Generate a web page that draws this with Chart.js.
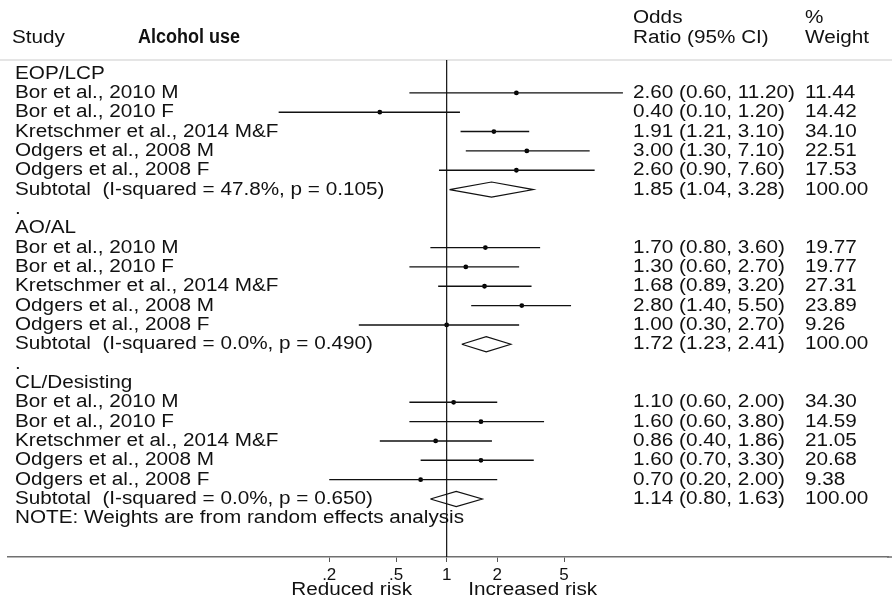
<!DOCTYPE html>
<html>
<head>
<meta charset="utf-8">
<title>Alcohol use forest plot</title>
<script src="https://cdn.jsdelivr.net/npm/chart.js@4.4.0/dist/chart.umd.min.js"></script>
<style>
  html, body { margin: 0; padding: 0; background: #fff; }
  #wrap { width: 892px; height: 601px; position: relative; }
</style>
</head>
<body>
<div id="wrap"><canvas id="forest"></canvas></div>
<script>
// --- data ---
const groups = ['EOP/LCP', 'AO/AL', 'CL/Desisting'];
const studies = ['Bor et al., 2010 M', 'Bor et al., 2010 F', 'Kretschmer et al., 2014 M&F',
                 'Odgers et al., 2008 M', 'Odgers et al., 2008 F'];

const orEst  = [[2.60, 0.40, 1.91, 3.00, 2.60], [1.70, 1.30, 1.68, 2.80, 1.00], [1.10, 1.60, 0.86, 1.60, 0.70]];
const orLow  = [[0.60, 0.10, 1.21, 1.30, 0.90], [0.80, 0.60, 0.89, 1.40, 0.30], [0.60, 0.60, 0.40, 0.70, 0.20]];
const orHigh = [[11.20, 1.20, 3.10, 7.10, 7.60], [3.60, 2.70, 3.20, 5.50, 2.70], [2.00, 3.80, 1.86, 3.30, 2.00]];
const weights = [[11.44, 14.42, 34.10, 22.51, 17.53], [19.77, 19.77, 27.31, 23.89, 9.26], [34.30, 14.59, 21.05, 20.68, 9.38]];

const subEst  = [1.85, 1.72, 1.14];
const subLow  = [1.04, 1.23, 0.80];
const subHigh = [3.28, 2.41, 1.63];
const subHet  = ['I-squared = 47.8%, p = 0.105', 'I-squared = 0.0%, p = 0.490', 'I-squared = 0.0%, p = 0.650'];

const tickValues = [0.2, 0.5, 1, 2, 5];
const tickLabels = ['.2', '.5', '1', '2', '5'];
const note = 'NOTE: Weights are from random effects analysis';

// --- layout helpers ---
const ROWS_PER_GROUP = 8;
const Y_TOP = -0.7, Y_BOTTOM = 25;
const X_MIN = 0.002449, X_MAX = 423.6;
const FONT = '18px "Liberation Sans", Arial, sans-serif';
const STRETCH = 1.15;
const INK = '#111';
const AXIS_GREY = '#707070';

function rowOf(g, i) { return g * ROWS_PER_GROUP + i; }
function fmt(v) { return v.toFixed(2); }

const datasets = [];

// reference line at OR = 1
datasets.push({
  data: [{ x: 1, y: Y_TOP }, { x: 1, y: Y_BOTTOM }],
  showLine: true, borderColor: INK, borderWidth: 1.2, pointRadius: 0
});

// confidence intervals
groups.forEach((g, gi) => {
  studies.forEach((s, si) => {
    const y = rowOf(gi, 1 + si);
    datasets.push({
      data: [{ x: orLow[gi][si], y }, { x: orHigh[gi][si], y }],
      showLine: true, borderColor: INK, borderWidth: 1.4, pointRadius: 0
    });
  });
});

// pooled diamonds
const halfH = 0.39;
groups.forEach((g, gi) => {
  const y = rowOf(gi, 6);
  datasets.push({
    data: [
      { x: subLow[gi], y }, { x: subEst[gi], y: y - halfH },
      { x: subHigh[gi], y }, { x: subEst[gi], y: y + halfH },
      { x: subLow[gi], y }
    ],
    showLine: true, borderColor: INK, borderWidth: 1.2, pointRadius: 0, fill: false
  });
});

// point estimates
const estPts = [];
groups.forEach((g, gi) => studies.forEach((s, si) => estPts.push({ x: orEst[gi][si], y: rowOf(gi, 1 + si) })));
datasets.push({ data: estPts, pointRadius: 2.4, backgroundColor: '#000', borderWidth: 0, showLine: false });

function txt(ctx, s, x, y, font, sx) {
  ctx.save();
  ctx.font = font;
  ctx.translate(x, y);
  ctx.scale(sx, 1);
  ctx.fillText(s, 0, 0);
  ctx.restore();
}

const textPlugin = {
  id: 'forestText',
  beforeDraw(chart) {
    const { ctx, chartArea } = chart;
    ctx.save();
    ctx.strokeStyle = '#dcdcdc';
    ctx.lineWidth = 1.5;
    ctx.beginPath();
    ctx.moveTo(0, chartArea.top);
    ctx.lineTo(chart.width, chartArea.top);
    ctx.stroke();
    // the axis rule runs on to the right edge of the figure
    ctx.strokeStyle = AXIS_GREY;
    ctx.beginPath();
    ctx.moveTo(chartArea.right - 1, chartArea.bottom);
    ctx.lineTo(chart.width, chartArea.bottom);
    ctx.stroke();
    ctx.restore();
  },
  afterDraw(chart) {
    const { ctx } = chart;
    const ys = chart.scales.y, xs = chart.scales.x;
    const colLabel = 15, colOR = 633, colW = 805;
    ctx.save();
    ctx.fillStyle = INK;
    ctx.textAlign = 'left';
    ctx.textBaseline = 'middle';

    // header
    txt(ctx, 'Study', 12, 38, FONT, STRETCH);
    txt(ctx, 'Alcohol use', 138, 37, 'bold 20px "Liberation Sans Narrow", "Liberation Sans", Arial, sans-serif', 0.9);
    txt(ctx, 'Odds', colOR, 18, FONT, STRETCH);
    txt(ctx, 'Ratio (95% CI)', colOR, 38, FONT, STRETCH);
    txt(ctx, '%', colW, 18, FONT, STRETCH);
    txt(ctx, 'Weight', colW, 38, FONT, STRETCH);

    groups.forEach((g, gi) => {
      txt(ctx, g, colLabel, ys.getPixelForValue(rowOf(gi, 0)), FONT, STRETCH);
      studies.forEach((s, si) => {
        const py = ys.getPixelForValue(rowOf(gi, 1 + si));
        txt(ctx, s, colLabel, py, FONT, STRETCH);
        txt(ctx, fmt(orEst[gi][si]) + ' (' + fmt(orLow[gi][si]) + ', ' + fmt(orHigh[gi][si]) + ')', colOR, py, FONT, STRETCH);
        txt(ctx, fmt(weights[gi][si]), colW, py, FONT, STRETCH);
      });
      const sy = ys.getPixelForValue(rowOf(gi, 6));
      txt(ctx, 'Subtotal  (' + subHet[gi] + ')', colLabel, sy, FONT, STRETCH);
      txt(ctx, fmt(subEst[gi]) + ' (' + fmt(subLow[gi]) + ', ' + fmt(subHigh[gi]) + ')', colOR, sy, FONT, STRETCH);
      txt(ctx, '100.00', colW, sy, FONT, STRETCH);
      if (gi < groups.length - 1) {
        txt(ctx, '.', colLabel, ys.getPixelForValue(rowOf(gi, 7)), FONT, STRETCH);
      }
    });
    txt(ctx, note, colLabel, ys.getPixelForValue(rowOf(groups.length - 1, 7)), FONT, STRETCH);

    // axis captions either side of the null line
    const x1 = xs.getPixelForValue(1);
    ctx.textAlign = 'center';
    txt(ctx, 'Reduced risk', x1 - 95, 590, FONT, STRETCH);
    txt(ctx, 'Increased risk', x1 + 86, 590, FONT, STRETCH);
    ctx.restore();
  }
};

new Chart(document.getElementById('forest'), {
  type: 'scatter',
  data: { datasets },
  options: {
    responsive: true,
    maintainAspectRatio: false,
    animation: false,
    layout: { padding: { left: 8, top: 60, right: 0, bottom: 0 } },
    plugins: { legend: { display: false }, tooltip: { enabled: false } },
    elements: { line: { tension: 0 } },
    scales: {
      x: {
        type: 'logarithmic',
        min: X_MIN,
        max: X_MAX,
        bounds: 'data',
        border: { display: true, color: AXIS_GREY, width: 1.5 },
        grid: { drawOnChartArea: false, drawTicks: true, tickLength: 5, color: '#555' },
        ticks: {
          color: INK,
          font: { family: '"Liberation Sans", Arial, sans-serif', size: 17 },
          padding: 3,
          autoSkip: false,
          maxRotation: 0,
          callback: (v, i) => tickLabels[i]
        },
        afterBuildTicks: ax => { ax.ticks = tickValues.map(v => ({ value: v })); },
        afterFit: ax => { ax.height = 44; }
      },
      y: { type: 'linear', reverse: true, min: Y_TOP, max: Y_BOTTOM, display: false }
    }
  },
  plugins: [textPlugin]
});
</script>
</body>
</html>
